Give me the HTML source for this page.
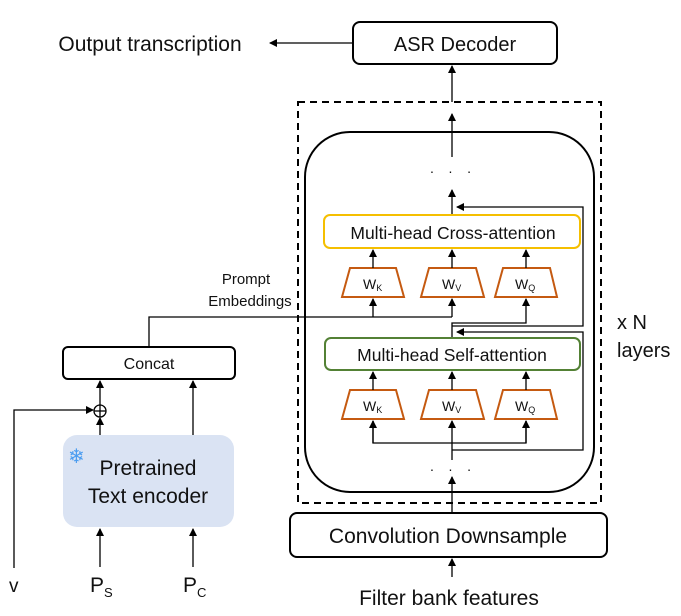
<!DOCTYPE html>
<html><head><meta charset="utf-8"><style>
body{margin:0;background:#fff}
svg text{font-family:"Liberation Sans",sans-serif;fill:#111}
</style></head><body>
<svg width="681" height="611" viewBox="0 0 681 611" xmlns="http://www.w3.org/2000/svg">
<defs><marker id="a" markerWidth="8" markerHeight="8" refX="7" refY="4" orient="auto" markerUnits="userSpaceOnUse"><path d="M0,0 L8,4 L0,8z" fill="#000"/></marker></defs>
<g fill="none" stroke="#000" stroke-width="1.3">
<rect x="353" y="22" width="204" height="42" rx="7" stroke-width="2"/>
<line x1="353" y1="43" x2="270" y2="43" marker-end="url(#a)"/>
<line x1="452" y1="102" x2="452" y2="66" marker-end="url(#a)"/>
<rect x="298" y="102" width="303" height="401" stroke-dasharray="7,5" stroke-width="2"/>
<rect x="305" y="132" width="289" height="360" rx="45" stroke-width="2"/>
<line x1="452" y1="157" x2="452" y2="114" marker-end="url(#a)"/>
<line x1="452" y1="216" x2="452" y2="190" marker-end="url(#a)"/>
<rect x="324" y="215" width="256" height="33" rx="6" stroke="#f5bf00" stroke-width="2"/>
<g stroke="#c55a11" stroke-width="2">
<path d="M350,268 L396,268 L404,297 L342,297z"/>
<path d="M429,268 L476,268 L484,297 L421,297z"/>
<path d="M503,268 L550,268 L557,297 L495,297z"/>
<path d="M350,390 L396,390 L404,419 L342,419z"/>
<path d="M429,390 L476,390 L484,419 L421,419z"/>
<path d="M503,390 L550,390 L557,419 L495,419z"/>
</g>
<line x1="373" y1="268" x2="373" y2="250" marker-end="url(#a)"/>
<line x1="452" y1="268" x2="452" y2="250" marker-end="url(#a)"/>
<line x1="526" y1="268" x2="526" y2="250" marker-end="url(#a)"/>
<polyline points="149,347 149,317 452,317"/>
<line x1="373" y1="317" x2="373" y2="299" marker-end="url(#a)"/>
<line x1="452" y1="317" x2="452" y2="299" marker-end="url(#a)"/>
<polyline points="452,338 452,323 526,323 526,299" marker-end="url(#a)"/>
<polyline points="452,326 583,326 583,207 457,207" marker-end="url(#a)"/>
<rect x="325" y="338" width="255" height="32" rx="6" stroke="#538135" stroke-width="2"/>
<line x1="373" y1="390" x2="373" y2="372" marker-end="url(#a)"/>
<line x1="452" y1="390" x2="452" y2="372" marker-end="url(#a)"/>
<line x1="526" y1="390" x2="526" y2="372" marker-end="url(#a)"/>
<polyline points="452,450 583,450 583,332 457,332" marker-end="url(#a)"/>
<line x1="452" y1="460" x2="452" y2="421" marker-end="url(#a)"/>
<polyline points="373,421 373,443 526,443 526,421"/>
<line x1="373" y1="443" x2="373" y2="421" marker-end="url(#a)"/>
<line x1="526" y1="443" x2="526" y2="421" marker-end="url(#a)"/>
<line x1="452" y1="513" x2="452" y2="477" marker-end="url(#a)"/>
<rect x="290" y="513" width="317" height="44" rx="7" stroke-width="2"/>
<line x1="452" y1="577" x2="452" y2="559" marker-end="url(#a)"/>
<rect x="63" y="347" width="172" height="32" rx="5" stroke-width="2"/>
<rect x="63" y="435" width="171" height="92" rx="14" fill="#dae3f3" stroke="none"/>
<line x1="100" y1="435" x2="100" y2="418" marker-end="url(#a)"/>
<line x1="100" y1="405" x2="100" y2="381" marker-end="url(#a)"/>
<circle cx="100" cy="411" r="6"/>
<line x1="94.5" y1="411" x2="105.5" y2="411"/><line x1="100" y1="405.5" x2="100" y2="416.5"/>
<polyline points="14,568 14,410 93,410" marker-end="url(#a)"/>
<line x1="193" y1="435" x2="193" y2="381" marker-end="url(#a)"/>
<line x1="100" y1="567" x2="100" y2="529" marker-end="url(#a)"/>
<line x1="193" y1="567" x2="193" y2="529" marker-end="url(#a)"/>
</g>
<g text-anchor="middle">
<text x="150" y="51" font-size="21">Output transcription</text>
<text x="455" y="51" font-size="20">ASR Decoder</text>
<text x="453" y="176" font-size="14" letter-spacing="5">· · ·</text>
<text x="453" y="239" font-size="17.5">Multi-head Cross-attention</text>
<text x="452" y="361" font-size="17.5">Multi-head Self-attention</text>
<text x="453" y="474" font-size="14" letter-spacing="5">· · ·</text>
<text x="448" y="543" font-size="21">Convolution Downsample</text>
<text x="449" y="605" font-size="21">Filter bank features</text>
<text x="149" y="369" font-size="16">Concat</text>
<text x="148" y="475" font-size="21">Pretrained</text>
<text x="148" y="503" font-size="21">Text encoder</text>
<text x="246" y="284" font-size="15">Prompt</text>
<text x="250" y="306" font-size="15">Embeddings</text>
</g>
<g font-size="14">
<text x="363" y="289">W<tspan font-size="9" dy="2">K</tspan></text>
<text x="442" y="289">W<tspan font-size="9" dy="2">V</tspan></text>
<text x="515" y="289">W<tspan font-size="9" dy="2">Q</tspan></text>
<text x="363" y="411">W<tspan font-size="9" dy="2">K</tspan></text>
<text x="442" y="411">W<tspan font-size="9" dy="2">V</tspan></text>
<text x="515" y="411">W<tspan font-size="9" dy="2">Q</tspan></text>
</g>
<text x="617" y="329" font-size="20">x N</text>
<text x="617" y="357" font-size="20">layers</text>
<text x="9" y="592" font-size="19">v</text>
<text x="90" y="592" font-size="21">P<tspan font-size="13" dy="5">S</tspan></text>
<text x="183" y="592" font-size="21">P<tspan font-size="13" dy="5">C</tspan></text>
<text x="68" y="463" font-size="20" style="fill:#4a9cf0">❄</text>
</svg>
</body></html>
